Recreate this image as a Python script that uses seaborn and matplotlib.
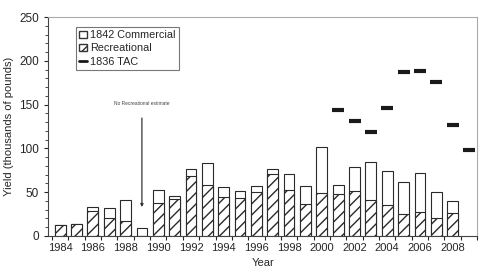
import numpy as np
import pandas as pd
import matplotlib
matplotlib.use('Agg')
import matplotlib.pyplot as plt
import seaborn as sns
from matplotlib.patches import Patch
from matplotlib.lines import Line2D
from matplotlib.ticker import MultipleLocator

# data
years = list(range(1984, 2009))
recreational = [13, 14, 29, 20, 17, 0, 38, 42, 68, 58, 45, 43, 50, 71, 53, 37,
                49, 48, 51, 41, 35, 25, 27, 20, 26]
total = [13, 14, 33, 32, 41, 9, 52, 46, 77, 83, 56, 51, 57, 77, 71, 57,
         102, 58, 79, 85, 74, 62, 72, 50, 40]
tac_years = list(range(2001, 2010))
tac = [144, 131, 119, 146, 187, 189, 176, 127, 98]

df = pd.DataFrame({'year': years, 'recreational': recreational, 'total': total})

sns.set_style('ticks')
plt.rcParams['font.family'] = ['Liberation Sans', 'DejaVu Sans']
plt.rcParams['hatch.linewidth'] = 1.0

fig = plt.figure(figsize=(4.82, 2.76), dpi=100)
ax = fig.add_axes([0.10, 0.145, 0.89, 0.793])

# commercial = white box for the total, recreational hatched on top of it
sns.barplot(data=df, x='year', y='total', native_scale=True, width=0.66,
            color='white', edgecolor='#2a2a2a', linewidth=0.8, ax=ax)
sns.barplot(data=df, x='year', y='recreational', native_scale=True, width=0.66,
            color='white', edgecolor='#2a2a2a', linewidth=0.8, hatch='///', ax=ax)
ax.plot(tac_years, tac, ls='none', marker='_', ms=9, mew=3, color='#1a1a1a')

ax.annotate('No Recreational estimate', xy=(1989, 33), xytext=(1989, 148),
            fontsize=3.5, ha='center', va='bottom', color='#444444',
            arrowprops=dict(arrowstyle='-|>', color='#333333', lw=0.9,
                            mutation_scale=4, shrinkA=6, shrinkB=0))

ax.set_xlim(1983.27, 2009.35)
ax.set_ylim(0, 250)
ax.set_xticks(range(1984, 2009, 2))
ax.set_xticks(np.arange(1983.5, 2009.6, 1), minor=True)
ax.tick_params(axis='x', which='major', length=0, pad=5, labelsize=8)
ax.tick_params(axis='x', which='minor', length=3, width=0.8)
ax.yaxis.set_major_locator(MultipleLocator(50))
ax.yaxis.set_minor_locator(MultipleLocator(10))
ax.tick_params(axis='y', which='major', length=3, labelsize=8.5)
ax.tick_params(axis='y', which='minor', length=2)
ax.set_xlabel('Year', fontsize=8)
ax.set_ylabel('Yield (thousands of pounds)', fontsize=8)

for s in ['top', 'right']:
    ax.spines[s].set_color('#aaaaaa')
    ax.spines[s].set_linewidth(0.8)
for s in ['left', 'bottom']:
    ax.spines[s].set_color('#444444')

handles = [Patch(facecolor='white', edgecolor='#333333', label='1842 Commercial'),
           Patch(facecolor='white', edgecolor='#333333', hatch='///', label='Recreational'),
           Line2D([], [], color='#1a1a1a', lw=2, label='1836 TAC')]
leg = ax.legend(handles=handles, loc='upper left', bbox_to_anchor=(0.065, 0.955),
                fontsize=7.8, frameon=True, fancybox=False, handlelength=0.7,
                handleheight=0.7, handletextpad=0.3, labelspacing=0.3,
                borderpad=0.3, borderaxespad=0)
leg.get_frame().set_edgecolor('#555555')
leg.get_frame().set_linewidth(0.8)

fig.savefig('out.png', dpi=100)
